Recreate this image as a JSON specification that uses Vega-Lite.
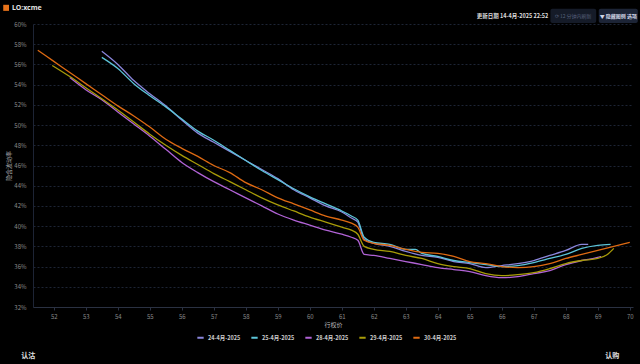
{
  "$schema": "https://vega.github.io/schema/vega-lite/v6.json",
  "width": 600,
  "height": 283,
  "autosize": "none",
  "padding": {"left": 33, "top": 24, "right": 7, "bottom": 57},
  "background": "#000000",
  "config": {
    "view": {"stroke": null},
    "font": "Noto Sans CJK SC",
    "axis": {"labelOverlap": false, "labelFlush": false},
    "axisX": {"tickCount": 19},
    "axisY": {"tickCount": 15}
  },
  "datasets": {
    "iv": [
      {"date": "24-4月-2025", "strike": 53.5, "iv": 57.3},
      {"date": "24-4月-2025", "strike": 54.0, "iv": 56.0},
      {"date": "24-4月-2025", "strike": 54.5, "iv": 54.4},
      {"date": "24-4月-2025", "strike": 55.0, "iv": 53.1},
      {"date": "24-4月-2025", "strike": 55.5, "iv": 51.9},
      {"date": "24-4月-2025", "strike": 56.0, "iv": 50.5},
      {"date": "24-4月-2025", "strike": 56.5, "iv": 49.2},
      {"date": "24-4月-2025", "strike": 57.0, "iv": 48.3},
      {"date": "24-4月-2025", "strike": 57.5, "iv": 47.4},
      {"date": "24-4月-2025", "strike": 58.0, "iv": 46.5},
      {"date": "24-4月-2025", "strike": 58.5, "iv": 45.6},
      {"date": "24-4月-2025", "strike": 59.0, "iv": 44.7},
      {"date": "24-4月-2025", "strike": 59.5, "iv": 43.6},
      {"date": "24-4月-2025", "strike": 60.0, "iv": 42.8},
      {"date": "24-4月-2025", "strike": 60.5, "iv": 42.0},
      {"date": "24-4月-2025", "strike": 61.0, "iv": 41.4},
      {"date": "24-4月-2025", "strike": 61.3, "iv": 40.8},
      {"date": "24-4月-2025", "strike": 61.5, "iv": 40.4},
      {"date": "24-4月-2025", "strike": 61.7, "iv": 38.7},
      {"date": "24-4月-2025", "strike": 62.0, "iv": 38.3},
      {"date": "24-4月-2025", "strike": 62.5, "iv": 38.0},
      {"date": "24-4月-2025", "strike": 63.0, "iv": 37.5},
      {"date": "24-4月-2025", "strike": 63.5, "iv": 37.1},
      {"date": "24-4月-2025", "strike": 64.0, "iv": 36.9},
      {"date": "24-4月-2025", "strike": 64.5, "iv": 36.5},
      {"date": "24-4月-2025", "strike": 65.0, "iv": 36.3},
      {"date": "24-4月-2025", "strike": 65.5, "iv": 35.9},
      {"date": "24-4月-2025", "strike": 66.0, "iv": 36.1},
      {"date": "24-4月-2025", "strike": 66.5, "iv": 36.3},
      {"date": "24-4月-2025", "strike": 67.0, "iv": 36.6},
      {"date": "24-4月-2025", "strike": 67.5, "iv": 37.1},
      {"date": "24-4月-2025", "strike": 68.0, "iv": 37.6},
      {"date": "24-4月-2025", "strike": 68.5, "iv": 38.2},
      {"date": "24-4月-2025", "strike": 68.7, "iv": 38.2},

      {"date": "25-4月-2025", "strike": 53.5, "iv": 56.7},
      {"date": "25-4月-2025", "strike": 54.0, "iv": 55.6},
      {"date": "25-4月-2025", "strike": 54.5, "iv": 54.1},
      {"date": "25-4月-2025", "strike": 55.0, "iv": 52.9},
      {"date": "25-4月-2025", "strike": 55.5, "iv": 51.8},
      {"date": "25-4月-2025", "strike": 56.0, "iv": 50.6},
      {"date": "25-4月-2025", "strike": 56.5, "iv": 49.4},
      {"date": "25-4月-2025", "strike": 57.0, "iv": 48.5},
      {"date": "25-4月-2025", "strike": 57.5, "iv": 47.5},
      {"date": "25-4月-2025", "strike": 58.0, "iv": 46.5},
      {"date": "25-4月-2025", "strike": 58.5, "iv": 45.5},
      {"date": "25-4月-2025", "strike": 59.0, "iv": 44.6},
      {"date": "25-4月-2025", "strike": 59.5, "iv": 43.7},
      {"date": "25-4月-2025", "strike": 60.0, "iv": 42.9},
      {"date": "25-4月-2025", "strike": 60.5, "iv": 42.2},
      {"date": "25-4月-2025", "strike": 61.0, "iv": 41.5},
      {"date": "25-4月-2025", "strike": 61.3, "iv": 41.0},
      {"date": "25-4月-2025", "strike": 61.5, "iv": 40.6},
      {"date": "25-4月-2025", "strike": 61.7, "iv": 38.9},
      {"date": "25-4月-2025", "strike": 62.0, "iv": 38.4},
      {"date": "25-4月-2025", "strike": 62.5, "iv": 38.2},
      {"date": "25-4月-2025", "strike": 63.0, "iv": 37.7},
      {"date": "25-4月-2025", "strike": 63.3, "iv": 37.7},
      {"date": "25-4月-2025", "strike": 63.5, "iv": 37.3},
      {"date": "25-4月-2025", "strike": 64.0, "iv": 37.0},
      {"date": "25-4月-2025", "strike": 64.5, "iv": 36.6},
      {"date": "25-4月-2025", "strike": 65.0, "iv": 36.4},
      {"date": "25-4月-2025", "strike": 65.5, "iv": 36.2},
      {"date": "25-4月-2025", "strike": 66.0, "iv": 36.0},
      {"date": "25-4月-2025", "strike": 66.5, "iv": 36.1},
      {"date": "25-4月-2025", "strike": 67.0, "iv": 36.4},
      {"date": "25-4月-2025", "strike": 67.5, "iv": 36.8},
      {"date": "25-4月-2025", "strike": 68.0, "iv": 37.2},
      {"date": "25-4月-2025", "strike": 68.5, "iv": 37.8},
      {"date": "25-4月-2025", "strike": 69.0, "iv": 38.1},
      {"date": "25-4月-2025", "strike": 69.4, "iv": 38.2},

      {"date": "28-4月-2025", "strike": 52.5, "iv": 54.7},
      {"date": "28-4月-2025", "strike": 53.0, "iv": 53.5},
      {"date": "28-4月-2025", "strike": 53.5, "iv": 52.5},
      {"date": "28-4月-2025", "strike": 54.0, "iv": 51.3},
      {"date": "28-4月-2025", "strike": 54.5, "iv": 50.1},
      {"date": "28-4月-2025", "strike": 55.0, "iv": 48.9},
      {"date": "28-4月-2025", "strike": 55.5, "iv": 47.6},
      {"date": "28-4月-2025", "strike": 56.0, "iv": 46.3},
      {"date": "28-4月-2025", "strike": 56.5, "iv": 45.3},
      {"date": "28-4月-2025", "strike": 57.0, "iv": 44.4},
      {"date": "28-4月-2025", "strike": 57.5, "iv": 43.6},
      {"date": "28-4月-2025", "strike": 58.0, "iv": 42.8},
      {"date": "28-4月-2025", "strike": 58.5, "iv": 42.0},
      {"date": "28-4月-2025", "strike": 59.0, "iv": 41.2},
      {"date": "28-4月-2025", "strike": 59.5, "iv": 40.6},
      {"date": "28-4月-2025", "strike": 60.0, "iv": 40.1},
      {"date": "28-4月-2025", "strike": 60.5, "iv": 39.6},
      {"date": "28-4月-2025", "strike": 61.0, "iv": 39.2},
      {"date": "28-4月-2025", "strike": 61.3, "iv": 38.9},
      {"date": "28-4月-2025", "strike": 61.5, "iv": 38.6},
      {"date": "28-4月-2025", "strike": 61.7, "iv": 37.2},
      {"date": "28-4月-2025", "strike": 62.0, "iv": 37.1},
      {"date": "28-4月-2025", "strike": 62.5, "iv": 36.8},
      {"date": "28-4月-2025", "strike": 63.0, "iv": 36.5},
      {"date": "28-4月-2025", "strike": 63.5, "iv": 36.2},
      {"date": "28-4月-2025", "strike": 64.0, "iv": 35.9},
      {"date": "28-4月-2025", "strike": 64.5, "iv": 35.7},
      {"date": "28-4月-2025", "strike": 65.0, "iv": 35.5},
      {"date": "28-4月-2025", "strike": 65.5, "iv": 35.1},
      {"date": "28-4月-2025", "strike": 66.0, "iv": 34.9},
      {"date": "28-4月-2025", "strike": 66.5, "iv": 35.0},
      {"date": "28-4月-2025", "strike": 67.0, "iv": 35.3},
      {"date": "28-4月-2025", "strike": 67.5, "iv": 35.6},
      {"date": "28-4月-2025", "strike": 68.0, "iv": 36.2},
      {"date": "28-4月-2025", "strike": 68.5, "iv": 36.6},
      {"date": "28-4月-2025", "strike": 69.0, "iv": 36.9},
      {"date": "28-4月-2025", "strike": 69.1, "iv": 37.0},

      {"date": "29-4月-2025", "strike": 51.95, "iv": 55.9},
      {"date": "29-4月-2025", "strike": 52.5, "iv": 54.8},
      {"date": "29-4月-2025", "strike": 53.0, "iv": 53.7},
      {"date": "29-4月-2025", "strike": 53.5, "iv": 52.6},
      {"date": "29-4月-2025", "strike": 54.0, "iv": 51.5},
      {"date": "29-4月-2025", "strike": 54.5, "iv": 50.3},
      {"date": "29-4月-2025", "strike": 55.0, "iv": 49.1},
      {"date": "29-4月-2025", "strike": 55.5, "iv": 48.0},
      {"date": "29-4月-2025", "strike": 56.0, "iv": 47.0},
      {"date": "29-4月-2025", "strike": 56.5, "iv": 46.1},
      {"date": "29-4月-2025", "strike": 57.0, "iv": 45.2},
      {"date": "29-4月-2025", "strike": 57.5, "iv": 44.4},
      {"date": "29-4月-2025", "strike": 58.0, "iv": 43.6},
      {"date": "29-4月-2025", "strike": 58.5, "iv": 42.8},
      {"date": "29-4月-2025", "strike": 59.0, "iv": 42.1},
      {"date": "29-4月-2025", "strike": 59.5, "iv": 41.5},
      {"date": "29-4月-2025", "strike": 60.0, "iv": 40.9},
      {"date": "29-4月-2025", "strike": 60.5, "iv": 40.4},
      {"date": "29-4月-2025", "strike": 61.0, "iv": 39.9},
      {"date": "29-4月-2025", "strike": 61.3, "iv": 39.6},
      {"date": "29-4月-2025", "strike": 61.5, "iv": 39.2},
      {"date": "29-4月-2025", "strike": 61.7, "iv": 38.0},
      {"date": "29-4月-2025", "strike": 62.0, "iv": 37.7},
      {"date": "29-4月-2025", "strike": 62.5, "iv": 37.5},
      {"date": "29-4月-2025", "strike": 63.0, "iv": 37.1},
      {"date": "29-4月-2025", "strike": 63.5, "iv": 36.8},
      {"date": "29-4月-2025", "strike": 64.0, "iv": 36.3},
      {"date": "29-4月-2025", "strike": 64.5, "iv": 36.0},
      {"date": "29-4月-2025", "strike": 65.0, "iv": 35.8},
      {"date": "29-4月-2025", "strike": 65.5, "iv": 35.3},
      {"date": "29-4月-2025", "strike": 66.0, "iv": 35.1},
      {"date": "29-4月-2025", "strike": 66.5, "iv": 35.2},
      {"date": "29-4月-2025", "strike": 67.0, "iv": 35.4},
      {"date": "29-4月-2025", "strike": 67.5, "iv": 35.8},
      {"date": "29-4月-2025", "strike": 68.0, "iv": 36.3},
      {"date": "29-4月-2025", "strike": 68.5, "iv": 36.6},
      {"date": "29-4月-2025", "strike": 69.0, "iv": 36.8},
      {"date": "29-4月-2025", "strike": 69.3, "iv": 37.2},
      {"date": "29-4月-2025", "strike": 69.5, "iv": 37.8},

      {"date": "30-4月-2025", "strike": 51.5, "iv": 57.4},
      {"date": "30-4月-2025", "strike": 52.0, "iv": 56.3},
      {"date": "30-4月-2025", "strike": 52.5, "iv": 55.2},
      {"date": "30-4月-2025", "strike": 53.0, "iv": 54.1},
      {"date": "30-4月-2025", "strike": 53.5, "iv": 53.0},
      {"date": "30-4月-2025", "strike": 54.0, "iv": 51.9},
      {"date": "30-4月-2025", "strike": 54.5, "iv": 50.9},
      {"date": "30-4月-2025", "strike": 55.0, "iv": 49.8},
      {"date": "30-4月-2025", "strike": 55.5, "iv": 48.6},
      {"date": "30-4月-2025", "strike": 56.0, "iv": 47.7},
      {"date": "30-4月-2025", "strike": 56.5, "iv": 46.9},
      {"date": "30-4月-2025", "strike": 57.0, "iv": 46.0},
      {"date": "30-4月-2025", "strike": 57.5, "iv": 45.3},
      {"date": "30-4月-2025", "strike": 58.0, "iv": 44.3},
      {"date": "30-4月-2025", "strike": 58.5, "iv": 43.6},
      {"date": "30-4月-2025", "strike": 59.0, "iv": 42.8},
      {"date": "30-4月-2025", "strike": 59.5, "iv": 42.2},
      {"date": "30-4月-2025", "strike": 60.0, "iv": 41.6},
      {"date": "30-4月-2025", "strike": 60.5, "iv": 41.0},
      {"date": "30-4月-2025", "strike": 61.0, "iv": 40.6},
      {"date": "30-4月-2025", "strike": 61.3, "iv": 40.3},
      {"date": "30-4月-2025", "strike": 61.5, "iv": 39.9},
      {"date": "30-4月-2025", "strike": 61.7, "iv": 38.6},
      {"date": "30-4月-2025", "strike": 62.0, "iv": 38.3},
      {"date": "30-4月-2025", "strike": 62.5, "iv": 38.1},
      {"date": "30-4月-2025", "strike": 63.0, "iv": 37.7},
      {"date": "30-4月-2025", "strike": 63.5, "iv": 37.4},
      {"date": "30-4月-2025", "strike": 64.0, "iv": 37.3},
      {"date": "30-4月-2025", "strike": 64.5, "iv": 37.0},
      {"date": "30-4月-2025", "strike": 65.0, "iv": 36.5},
      {"date": "30-4月-2025", "strike": 65.5, "iv": 36.3},
      {"date": "30-4月-2025", "strike": 66.0, "iv": 36.0},
      {"date": "30-4月-2025", "strike": 66.5, "iv": 35.9},
      {"date": "30-4月-2025", "strike": 67.0, "iv": 36.0},
      {"date": "30-4月-2025", "strike": 67.5, "iv": 36.3},
      {"date": "30-4月-2025", "strike": 68.0, "iv": 36.8},
      {"date": "30-4月-2025", "strike": 68.5, "iv": 37.2},
      {"date": "30-4月-2025", "strike": 69.0, "iv": 37.6},
      {"date": "30-4月-2025", "strike": 69.5, "iv": 38.0},
      {"date": "30-4月-2025", "strike": 70.0, "iv": 38.4}
    ],
    "one": [{}]
  },
  "layer": [
    {
      "data": {"name": "iv"},
      "mark": {"type": "line", "strokeWidth": 1.3, "interpolate": "monotone", "clip": true},
      "encoding": {
        "x": {
          "field": "strike", "type": "quantitative",
          "scale": {"domain": [51.35, 70.1], "nice": false, "zero": false},
          "axis": {
            "title": "行权价", "values": [52,53,54,55,56,57,58,59,60,61,62,63,64,65,66,67,68,69,70],
            "tickCount": 19, "labelOverlap": false,
            "grid": false, "domainColor": "#2a3142", "tickColor": "#2a3142", "tickSize": 3,
            "labelColor": "#8a8a8a", "labelFontSize": 6, "labelPadding": 3,
            "titleColor": "#bbbbbb", "titleFontSize": 6, "titlePadding": 2, "titleFontWeight": "normal"
          }
        },
        "y": {
          "field": "iv", "type": "quantitative",
          "scale": {"domain": [32, 60], "nice": false, "zero": false},
          "axis": {
            "title": "隐含波动率", "values": [32,34,36,38,40,42,44,46,48,50,52,54,56,58,60],
            "tickCount": 15,
            "labelExpr": "datum.value + '%'", "labelOverlap": false,
            "grid": true, "gridColor": "#1d2435", "gridDash": [2, 2], "gridWidth": 1,
            "domainColor": "#1d2435", "ticks": false, "labelPadding": 7,
            "labelColor": "#8a8a8a", "labelFontSize": 6,
            "titleColor": "#aaaaaa", "titleFontSize": 6, "titlePadding": 2, "titleFontWeight": "normal"
          }
        },
        "color": {
          "field": "date", "type": "nominal",
          "scale": {
            "domain": ["24-4月-2025", "25-4月-2025", "28-4月-2025", "29-4月-2025", "30-4月-2025"],
            "range": ["#8a86dc", "#5cc4d8", "#b163d6", "#a89c08", "#de6a12"]
          },
          "legend": {
            "title": null, "orient": "none", "direction": "horizontal",
            "legendX": 163, "legendY": 309,
            "symbolType": "stroke", "symbolSize": 40, "symbolStrokeWidth": 2,
            "labelColor": "#cccccc", "labelFontSize": 5.5, "labelFontWeight": "bold",
            "columnPadding": 6, "labelOffset": 3
          }
        }
      }
    },
    {
      "data": {"name": "one"},
      "mark": {"type": "rect", "color": "#e8731a"},
      "encoding": {"x": {"datum": 50.42}, "x2": {"datum": 50.6}, "y": {"datum": 61.9}, "y2": {"datum": 61.3}}
    },
    {
      "data": {"name": "one"},
      "mark": {"type": "text", "text": "LO:xcme", "fontSize": 7, "fontWeight": "bold", "color": "#e0e0e0", "align": "left", "baseline": "middle", "font": "Noto Sans"},
      "encoding": {"x": {"datum": 50.69}, "y": {"datum": 61.6}}
    },
    {
      "data": {"name": "one"},
      "mark": {"type": "text", "text": "认沽", "fontSize": 7, "fontWeight": "bold", "color": "#e0e0e0", "align": "center"},
      "encoding": {"x": {"datum": 51.2}, "y": {"datum": 27.2}}
    },
    {
      "data": {"name": "one"},
      "mark": {"type": "text", "text": "认购", "fontSize": 7, "fontWeight": "bold", "color": "#e0e0e0", "align": "center"},
      "encoding": {"x": {"datum": 69.45}, "y": {"datum": 27.2}}
    },
    {
      "data": {"name": "one"},
      "mark": {"type": "text", "text": "更新日期 14-4月-2025 22:52", "fontSize": 5.5, "fontWeight": "bold", "color": "#dddddd", "align": "right"},
      "encoding": {"x": {"datum": 67.45}, "y": {"datum": 60.8}}
    },
    {
      "data": {"name": "one"},
      "mark": {"type": "rect", "color": "#151b28", "cornerRadius": 2},
      "encoding": {"x": {"datum": 67.52}, "x2": {"datum": 68.95}, "y": {"datum": 61.5}, "y2": {"datum": 60.1}}
    },
    {
      "data": {"name": "one"},
      "mark": {"type": "text", "text": "⟳ 12 分钟内刷新", "fontSize": 5, "color": "#55607a", "align": "center"},
      "encoding": {"x": {"datum": 68.23}, "y": {"datum": 60.8}}
    },
    {
      "data": {"name": "one"},
      "mark": {"type": "rect", "color": "#1c2436", "cornerRadius": 2},
      "encoding": {"x": {"datum": 69.03}, "x2": {"datum": 70.25}, "y": {"datum": 61.5}, "y2": {"datum": 60.1}}
    },
    {
      "data": {"name": "one"},
      "mark": {"type": "text", "text": "▼ 隐藏图例 选项", "fontSize": 5, "fontWeight": "bold", "color": "#d0d6e6", "align": "center"},
      "encoding": {"x": {"datum": 69.64}, "y": {"datum": 60.8}}
    }
  ]
}
